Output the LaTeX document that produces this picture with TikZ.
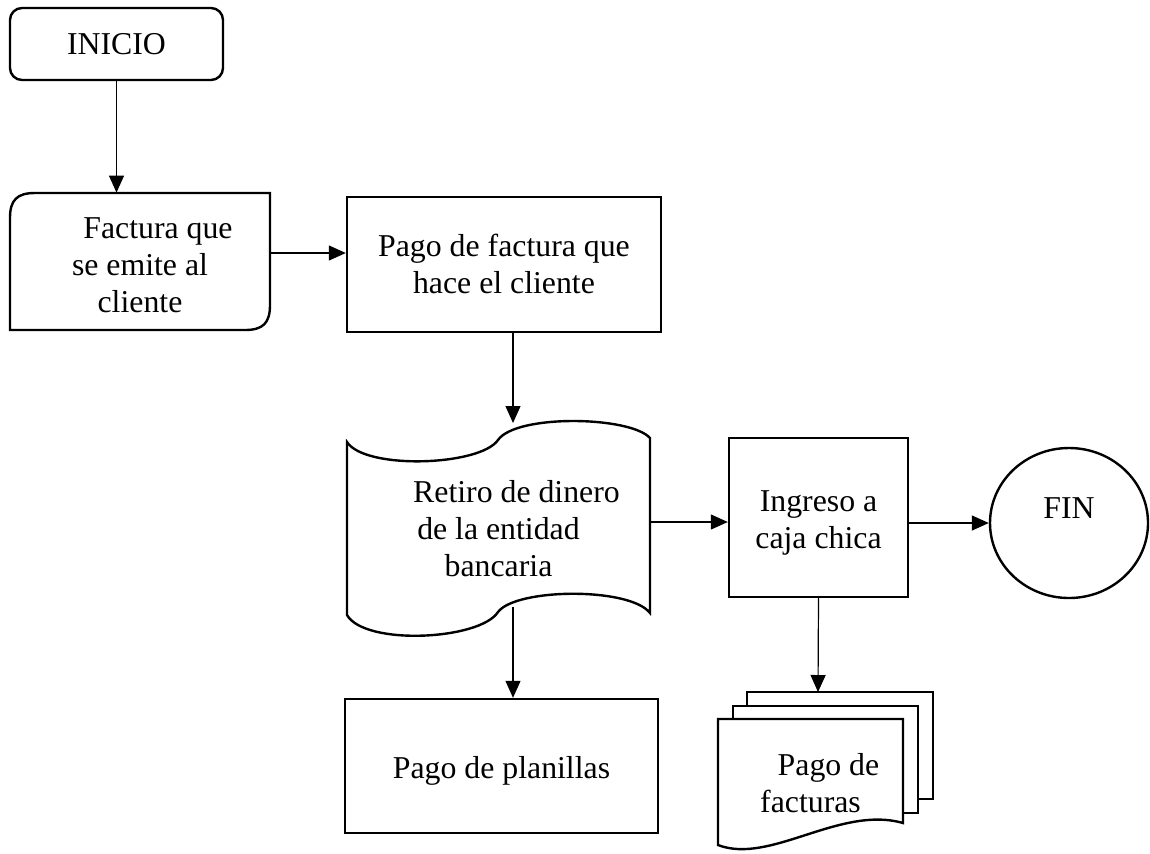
\documentclass[tikz,border=0pt]{standalone}
\usepackage{fontspec}
\setmainfont{Liberation Serif}
\usetikzlibrary{arrows.meta,shapes.geometric}
\tikzset{
  flowtext/.style={font=\fontsize{15.9}{18.5}\selectfont},
  flowbox/.style={draw, line width=1.2pt, align=center, inner sep=0pt},
  flowline/.style={line width=1.2pt},
  flowarrow/.style={line width=0.6pt, -{Triangle[length=8.5pt,width=7.5pt]}}
}

\begin{document}
\begin{tikzpicture}[x=0.5pt, y=-0.5pt, every node/.style={flowtext}]
  \useasboundingbox (0,0) rectangle (1150,853);

  % Inicio
  \node[flowbox, rounded corners=6pt, minimum width=106.5pt, minimum height=36pt] (inicio) at (116.5,44) {INICIO};

  % Factura (top-left and bottom-right rounded)
  \draw[flowline] (10,330) -- (10,218) .. controls (10,200) and (17,193) .. (35,193) -- (270,193)
    -- (270,305) .. controls (270,323) and (263,330) .. (245,330) -- cycle;
  \node[align=center, inner sep=0pt, minimum width=130pt, minimum height=68.5pt,
    text height=50.5pt, text depth=0pt] (factura) at (140,261.5)
    {\hspace*{18pt}Factura que\\se emite al\\cliente};

  % Pago de factura
  \node[flowbox, minimum width=157pt, minimum height=67.5pt, text height=28.5pt, text depth=0pt]
    (pago) at (504,264.5) {Pago de factura que\\hace el cliente};

  % Retiro (punched tape)
  \draw[flowline] (347,442) .. controls (365,470) and (480,466) .. (498,440)
    .. controls (516,414) and (630,416) .. (650,438) -- (650,613)
    .. controls (630,587) and (516,588) .. (498,612)
    .. controls (480,640) and (365,646) .. (347,615) -- cycle;
  \node[align=center, inner sep=0pt, minimum width=151.5pt, minimum height=95pt,
    text height=48pt, text depth=0pt] (retiro) at (498.5,528)
    {\hspace*{18pt}Retiro de dinero\\de la entidad\\bancaria};
  \coordinate (retiroin) at (513,423);
  \coordinate (retiroout) at (513,607);

  % Ingreso
  \node[flowbox, minimum width=89.5pt, minimum height=79.5pt, text height=30.5pt, text depth=0pt]
    (ingreso) at (818.5,517.5) {Ingreso a\\caja chica};

  % Fin
  \node[draw, ellipse, line width=1.2pt, inner sep=0pt, minimum width=79pt, minimum height=75pt, text depth=15pt] (fin) at (1069,523) {FIN};

  % Pago de planillas
  \node[flowbox, minimum width=156.5pt, minimum height=67pt, text height=12pt, text depth=0pt]
    (planillas) at (501.5,766) {Pago de planillas};

  % Pago de facturas (multi-document)
  \draw[flowline, fill=white] (747,692) rectangle (933,799);
  \draw[flowline, fill=white] (733,706) rectangle (918,813);
  \draw[flowline, fill=white] (718,719) -- (903,719) -- (903,823)
    .. controls (840,805) and (770,865) .. (718,845) -- cycle;
  \node[align=center, inner sep=0pt, minimum width=92.5pt, minimum height=63pt,
    text height=30pt, text depth=0pt] (facturas) at (810.5,782)
    {\hspace*{18pt}Pago de\\facturas};
  \coordinate (docstop) at (818,692);

  % Arrows
  \draw[flowarrow] (inicio.south) -- (inicio.south |- factura.north);
  \draw[flowarrow] ([yshift=4.25pt]factura.east) -- ([yshift=4.25pt]factura.east -| pago.west);
  \draw[flowarrow] (retiroin |- pago.south) -- (retiroin);
  \draw[flowarrow] ([yshift=3pt]retiro.east) -- ([yshift=3pt]retiro.east -| ingreso.west);
  \draw[flowarrow] (fin.west -| ingreso.east) -- (fin.west);
  \draw[flowarrow] (retiroout) -- (retiroout |- planillas.north);
  \draw[flowarrow] (ingreso.south) -- (docstop);
\end{tikzpicture}
\end{document}
